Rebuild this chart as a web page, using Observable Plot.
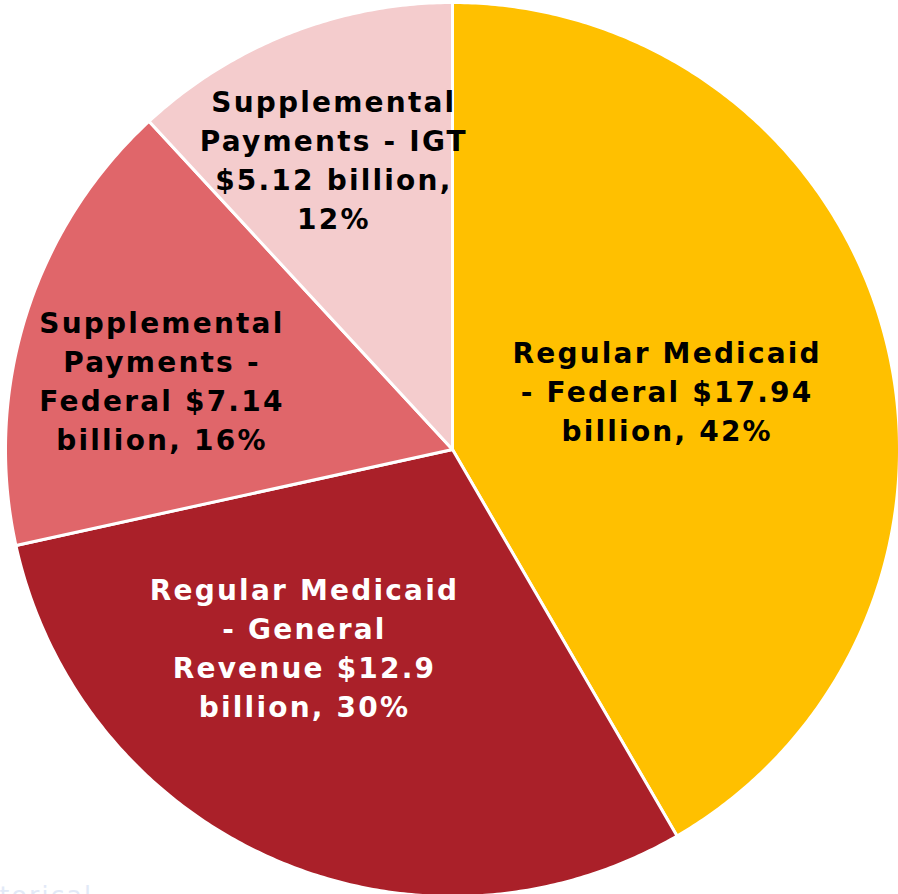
<!DOCTYPE html>
<html>
<head>
<meta charset="utf-8">
<script src="https://cdn.jsdelivr.net/npm/d3@7"></script>
<script src="https://cdn.jsdelivr.net/npm/@observablehq/plot@0.6"></script>
<style>
  html, body { margin: 0; padding: 0; background: #fff; }
  #chart svg { display: block; }
</style>
</head>
<body>
<div id="chart"></div>
<script>
// ---- data ----
const categories = [
  "Regular Medicaid - Federal",
  "Regular Medicaid - General Revenue",
  "Supplemental Payments - Federal",
  "Supplemental Payments - IGT"
];
const values = [17.94, 12.9, 7.14, 5.12];
const percents = ["42%", "30%", "16%", "12%"];
const labelTexts = [
  "Regular Medicaid\n- Federal $17.94\nbillion, 42%",
  "Regular Medicaid\n- General\nRevenue $12.9\nbillion, 30%",
  "Supplemental\nPayments -\nFederal $7.14\nbillion, 16%",
  "Supplemental\nPayments - IGT\n$5.12 billion,\n12%"
];
const colors = ["#FFC000", "#AA2029", "#E0666A", "#F4CCCD"];
const labelColors = ["#000000", "#ffffff", "#000000", "#000000"];

// ---- layout config (label placement relative to slice) ----
const labelRadius = [0.495, 0.555, 0.67, 0.70];
const labelAngleShift = [0, 13.2, -4.2, -1.1]; // degrees

// ---- geometry ----
const pie = d3.pie().sort(null).startAngle(0).endAngle(2 * Math.PI);
const arcs = pie(values);
const polys = [];
arcs.forEach((a, i) => {
  polys.push({x: 0, y: 0, k: i});
  const n = Math.max(2, Math.ceil((a.endAngle - a.startAngle) / (Math.PI / 360)));
  for (let j = 0; j <= n; j++) {
    const t = a.startAngle + (a.endAngle - a.startAngle) * j / n;
    polys.push({x: Math.sin(t), y: Math.cos(t), k: i});
  }
  polys.push({x: 0, y: 0, k: i});
});
const labels = arcs.map((a, i) => {
  const mid = (a.startAngle + a.endAngle) / 2 + labelAngleShift[i] * Math.PI / 180;
  return {x: labelRadius[i] * Math.sin(mid), y: labelRadius[i] * Math.cos(mid),
          text: labelTexts[i], color: labelColors[i]};
});

const R = 447, cx = 452, cy = 449, W = 898, H = 894;

const chart = Plot.plot({
  width: W,
  height: H,
  margin: 0,
  x: {domain: [-cx / R, (W - cx) / R], axis: null},
  y: {domain: [-(H - cy) / R, cy / R], axis: null},
  style: {background: "#fff"},
  marks: [
    Plot.line(polys, {
      x: "x", y: "y", z: "k",
      fill: d => colors[d.k],
      stroke: "#fff", strokeWidth: 3, strokeLinejoin: "round",
      curve: "linear"
    }),
    Plot.text(labels, {
      x: "x", y: "y", text: "text", fill: "color",
      dx: 1, dy: -2,
      fontSize: 28, fontWeight: "bold",
      fontFamily: "DejaVu Sans, Verdana, sans-serif",
      lineHeight: 1.39, lineAnchor: "middle", textAnchor: "middle"
    }),
    Plot.text(["torical"], {
      frameAnchor: "bottom-left", dx: -1, dy: 9, textAnchor: "start",
      fill: "#e2e9f7", fontSize: 25, fontFamily: "DejaVu Sans, sans-serif"
    })
  ]
});
chart.querySelectorAll("text").forEach(t => t.style.letterSpacing = "2.2px");
document.getElementById("chart").appendChild(chart);
</script>
</body>
</html>
